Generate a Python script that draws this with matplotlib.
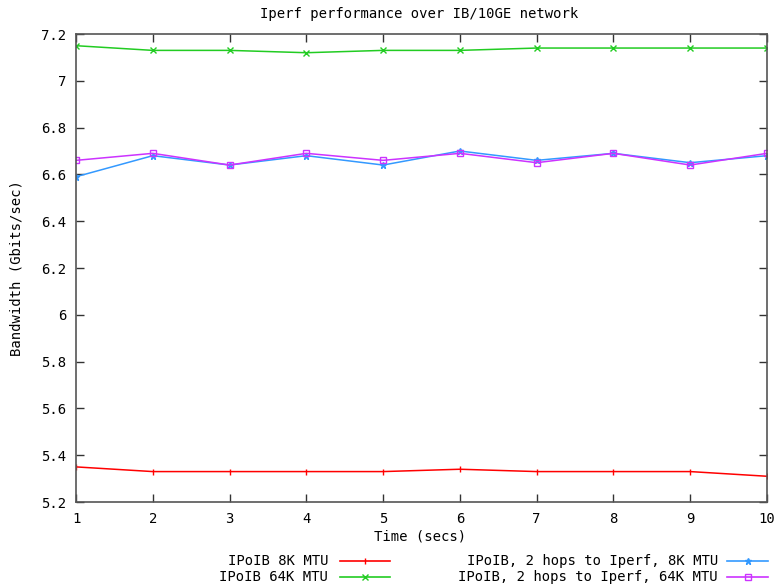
import numpy as np
import matplotlib
matplotlib.use("Agg")
import matplotlib.pyplot as plt
from matplotlib.lines import Line2D

# Iperf bandwidth per second, Gbits/sec
secs = [1, 2, 3, 4, 5, 6, 7, 8, 9, 10]
ib_8k = [5.35, 5.33, 5.33, 5.33, 5.33, 5.34, 5.33, 5.33, 5.33, 5.31]
ib_64k = [7.15, 7.13, 7.13, 7.12, 7.13, 7.13, 7.14, 7.14, 7.14, 7.14]
hops_8k = [6.59, 6.68, 6.64, 6.68, 6.64, 6.70, 6.66, 6.69, 6.65, 6.68]
hops_64k = [6.66, 6.69, 6.64, 6.69, 6.66, 6.69, 6.65, 6.69, 6.64, 6.69]

labels = ["IPoIB 8K MTU", "IPoIB 64K MTU",
          "IPoIB, 2 hops to Iperf, 8K MTU", "IPoIB, 2 hops to Iperf, 64K MTU"]
colors = ["#ff0000", "#22cc22", "#3399ff", "#cc33ff"]
markers = ["|", "x", "*", "s"]

plt.rcParams['font.family'] = ['DejaVu Sans Mono']
fs = 10

W, H = 776, 586
fig = plt.figure(figsize=(W / 100, H / 100), dpi=100)
ax = fig.add_axes([76 / W, 1 - 502 / H, (767 - 76) / W, (502 - 34) / H])

series = [ib_8k, ib_64k, hops_8k, hops_64k]
for ys, c, m in zip(series, colors, markers):
    mfc = 'none' if m == 's' else c
    ax.plot(secs, ys, color=c, lw=1.1, marker=m, ms=5, mfc=mfc, mec=c, mew=1)

ax.set_xlim(1, 10)
ax.set_ylim(5.2, 7.2)
ax.set_xticks(secs)
ax.set_yticks(np.arange(5.2, 7.21, 0.2))
ax.set_yticklabels(["5.2", "5.4", "5.6", "5.8", "6", "6.2", "6.4", "6.6", "6.8", "7", "7.2"])
ax.tick_params(direction='in', length=6, width=1, top=True, right=True,
               color='#333333', labelsize=fs, pad=7)
for s in ax.spines.values():
    s.set_color('#555555')
    s.set_linewidth(1.2)

fig.text(419 / W, 1 - 14 / H, "Iperf performance over IB/10GE network",
         ha='center', va='center', fontsize=fs)
fig.text(420 / W, 1 - 537 / H, "Time (secs)", ha='center', va='center', fontsize=fs)
fig.text(17 / W, 1 - 268 / H, "Bandwidth (Gbits/sec)", ha='center', va='center',
         rotation=90, fontsize=fs)

# gnuplot-style key below the plot
key = [(328, 340, 390, 561), (328, 340, 390, 577), (718, 727, 768, 561), (718, 727, 768, 577)]
for (tx, x0, x1, ky), lab, c, m in zip(key, labels, colors, markers):
    fig.text(tx / W, 1 - ky / H, lab, ha='right', va='center', fontsize=fs)
    mfc = 'none' if m == 's' else c
    fig.add_artist(Line2D([x0 / W, x1 / W], [1 - ky / H, 1 - ky / H], color=c, lw=1.2))
    fig.add_artist(Line2D([(x0 + x1) / 2 / W], [1 - ky / H], color=c, marker=m,
                          ms=5, mfc=mfc, mec=c, mew=1))

fig.savefig("out.png", dpi=100)
